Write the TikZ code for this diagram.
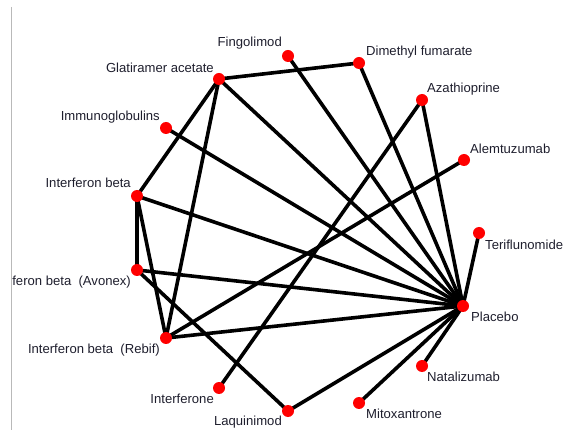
\documentclass[tikz,border=0pt]{standalone}
\usepackage{fontspec}
\setmainfont{Liberation Sans}
\begin{document}
\begin{tikzpicture}[x=1pt,y=-1pt,
  edge/.style={line width=3.6pt,black},
  dot/.style={circle,fill={rgb,255:red,255;green,0;blue,0},inner sep=0pt,minimum size=12pt},
  lbl/.style={inner sep=0pt,text={rgb,255:red,30;green,30;blue,45},font=\fontsize{13.1}{15}\selectfont}]
\useasboundingbox (0,0) rectangle (565,430);
% node positions
\coordinate (fin) at (288,56);
\coordinate (gla) at (219,79);
\coordinate (dim) at (359,63);
\coordinate (aza) at (422,100);
\coordinate (imm) at (166,128);
\coordinate (ale) at (464,160);
\coordinate (ifb) at (137,196);
\coordinate (ter) at (479,233);
\coordinate (avo) at (137,270);
\coordinate (pla) at (463,306);
\coordinate (reb) at (166,338);
\coordinate (nat) at (422,366);
\coordinate (inf) at (219,388);
\coordinate (mit) at (359,403);
\coordinate (laq) at (288,411);
% frame line
\coordinate (fa) at (11.5,7);
\coordinate (fb) at (11.5,430);
\draw[line width=1pt,gray!55] (fa) -- (fb);
% edges
\draw[edge] (gla) -- (dim);
\draw[edge] (gla) -- (ifb);
\draw[edge] (gla) -- (reb);
\draw[edge] (gla) -- (pla);
\draw[edge] (fin) -- (pla);
\draw[edge] (dim) -- (pla);
\draw[edge] (aza) -- (pla);
\draw[edge] (aza) -- (inf);
\draw[edge] (ale) -- (reb);
\draw[edge] (imm) -- (pla);
\draw[edge] (ifb) -- (avo);
\draw[edge] (ifb) -- (reb);
\draw[edge] (ifb) -- (pla);
\draw[edge] (avo) -- (pla);
\draw[edge] (avo) -- (laq);
\draw[edge] (laq) -- (pla);
\draw[edge] (reb) -- (pla);
\draw[edge] (mit) -- (pla);
\draw[edge] (nat) -- (pla);
\draw[edge] (ter) -- (pla);
% dots
\foreach \n in {fin,gla,dim,aza,imm,ale,ifb,ter,avo,pla,reb,nat,inf,mit,laq}
  \node[dot] (d\n) at (\n) {};
% labels
\node[lbl,anchor=east] (lfin) at (282,43) {Fingolimod};
\node[lbl,anchor=east] (lgla) at (214,68) {Glatiramer acetate};
\node[lbl,anchor=west] (ldim) at (366,52) {Dimethyl fumarate};
\node[lbl,anchor=west] (laza) at (427,89) {Azathioprine};
\node[lbl,anchor=east] (limm) at (160,117) {Immunoglobulins};
\node[lbl,anchor=west] (lale) at (470,149) {Alemtuzumab};
\node[lbl,anchor=east] (lifb) at (131,183) {Interferon beta};
\node[lbl,anchor=west] (lter) at (485,245) {Teriflunomide};
\begin{scope}
\clip (12,250) rectangle (200,300);
\node[lbl,anchor=east] (lavo) at (131,282) {Interferon beta\ \ (Avonex)};
\end{scope}
\node[lbl,anchor=west] (lpla) at (471,317) {Placebo};
\node[lbl,anchor=east] (lreb) at (160,350) {Interferon beta\ \ (Rebif)};
\node[lbl,anchor=west] (lnat) at (427,377) {Natalizumab};
\node[lbl,anchor=east] (linf) at (214,399) {Interferone};
\node[lbl,anchor=west] (lmit) at (366,414) {Mitoxantrone};
\node[lbl,anchor=east] (llaq) at (282,422) {Laquinimod};
\end{tikzpicture}
\end{document}
